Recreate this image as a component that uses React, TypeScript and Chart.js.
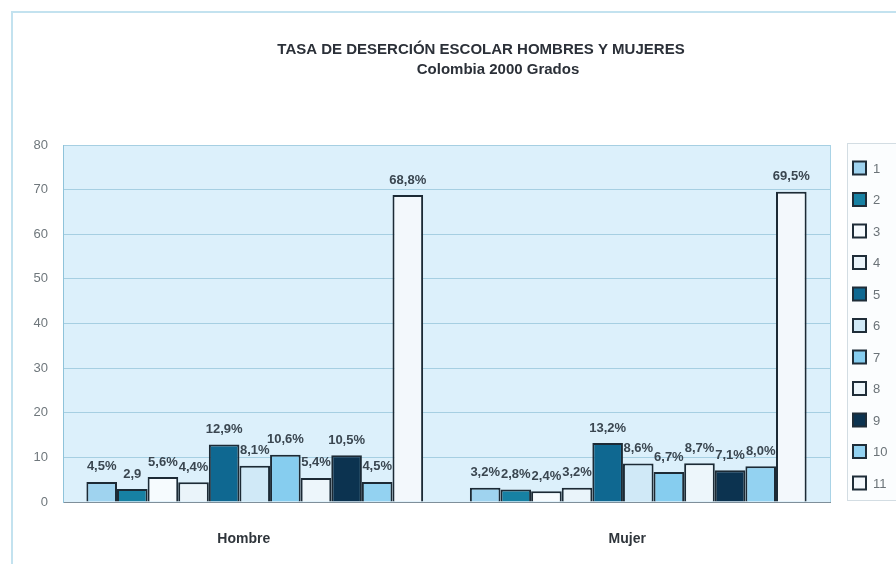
import React, { useEffect, useRef } from "react";
import { Chart, registerables } from "chart.js";

Chart.register(...registerables);

const categories = ["Hombre", "Mujer"];
const grades = ["1", "2", "3", "4", "5", "6", "7", "8", "9", "10", "11"];
const hombre = [4.5, 2.9, 5.6, 4.4, 12.9, 8.1, 10.6, 5.4, 10.5, 4.5, 68.8];
const mujer = [3.2, 2.8, 2.4, 3.2, 13.2, 8.6, 6.7, 8.7, 7.1, 8.0, 69.5];
const hombreLabels = ["4,5%", "2,9", "5,6%", "4,4%", "12,9%", "8,1%", "10,6%", "5,4%", "10,5%", "4,5%", "68,8%"];
const mujerLabels = ["3,2%", "2,8%", "2,4%", "3,2%", "13,2%", "8,6%", "6,7%", "8,7%", "7,1%", "8,0%", "69,5%"];
const gradeColors = [
  "#9fd3ef", "#1781a3", "#f6fbfe", "#eaf4fa", "#0f6891", "#d0e9f7",
  "#86cdef", "#edf6fb", "#0c3350", "#93d2f1", "#f3f8fc",
];
const titleLines = ["TASA DE DESERCIÓN ESCOLAR HOMBRES Y MUJERES", "Colombia 2000 Grados"];
const yMin = 0;
const yMax = 80;
const yStep = 10;

const FONT = "'Liberation Sans', Arial, sans-serif";

const decorPlugin = {
  id: "decor",
  beforeDraw(chart: any) {
    const { ctx, chartArea: a, width, height } = chart;
    ctx.save();
    ctx.fillStyle = "#ffffff";
    ctx.fillRect(0, 0, width, height);
    // outer frame
    ctx.strokeStyle = "#c3e2ef";
    ctx.lineWidth = 2;
    ctx.beginPath();
    ctx.moveTo(12, height + 5);
    ctx.lineTo(12, 12);
    ctx.lineTo(width + 5, 12);
    ctx.stroke();
    // plot background
    ctx.fillStyle = "#dcf0fb";
    ctx.fillRect(a.left, a.top, a.right - a.left, a.bottom - a.top);
    ctx.strokeStyle = "#a9d3e6";
    ctx.lineWidth = 1;
    ctx.strokeRect(a.left + 0.5, a.top + 0.5, a.right - a.left, a.bottom - a.top);
    // legend box
    ctx.strokeStyle = "#d3dde3";
    ctx.fillStyle = "#fbfdfe";
    ctx.fillRect(847, 143, 60, 357);
    ctx.strokeRect(847.5, 143.5, 60, 357);
    ctx.restore();
  },
  afterDatasetsDraw(chart: any) {
    const { ctx } = chart;
    ctx.save();
    ctx.font = `bold 13px ${FONT}`;
    ctx.fillStyle = "#3a4650";
    ctx.textAlign = "center";
    ctx.textBaseline = "middle";
    chart.data.datasets.forEach((ds: any, i: number) => {
      const meta = chart.getDatasetMeta(i);
      meta.data.forEach((el: any, j: number) => {
        const txt = j === 0 ? hombreLabels[i] : mujerLabels[i];
        ctx.fillText(txt, el.x, el.y - 15);
      });
    });
    ctx.restore();
  },
  afterDraw(chart: any) {
    const { ctx } = chart;
    ctx.save();
    // title
    ctx.fillStyle = "#2b3038";
    ctx.textAlign = "center";
    ctx.textBaseline = "middle";
    ctx.font = `bold 15px ${FONT}`;
    ctx.fillText(titleLines[0], 481, 50);
    ctx.fillText(titleLines[1], 498, 70);
    // legend
    ctx.textAlign = "left";
    ctx.font = `13px ${FONT}`;
    grades.forEach((g, i) => {
      const y = 168 + i * 31.5;
      ctx.fillStyle = gradeColors[i];
      ctx.fillRect(853, y - 6.5, 13, 13);
      ctx.strokeStyle = "#1f2d38";
      ctx.lineWidth = 2;
      ctx.strokeRect(853, y - 6.5, 13, 13);
      ctx.fillStyle = "#6b7378";
      ctx.fillText(g, 873, y + 1);
    });
    ctx.restore();
  },
};

export default function App() {
  const ref = useRef<HTMLCanvasElement | null>(null);
  useEffect(() => {
    if (!ref.current) return;
    const chart = new Chart(ref.current, {
      type: "bar",
      data: {
        labels: categories,
        datasets: grades.map((g, i) => ({
          label: g,
          data: [hombre[i], mujer[i]],
          backgroundColor: gradeColors[i],
          borderColor: "#1c2a35",
          borderWidth: 2,
          categoryPercentage: 0.878,
          barPercentage: 1.0,
        })),
      },
      options: {
        responsive: false,
        animation: false,
        devicePixelRatio: 1,
        layout: { padding: { left: 12, top: 145, right: 66, bottom: 12 } },
        plugins: {
          legend: { display: false },
          title: { display: false },
          tooltip: { enabled: false },
        },
        scales: {
          x: {
            grid: { display: false, drawTicks: false },
            border: { display: true, color: "#7f8f9a", width: 1 },
            ticks: {
              padding: 29,
              labelOffset: -11,
              color: "#2f353b",
              font: { family: FONT, size: 14, weight: "bold" },
            },
            afterFit: (s: any) => { s.height = 50; },
          },
          y: {
            min: yMin,
            max: yMax,
            grid: { color: "#a6cfe2", lineWidth: 1, drawTicks: false },
            border: { display: true, color: "#8fc3da" },
            ticks: {
              stepSize: yStep,
              padding: 15,
              color: "#6f777c",
              font: { family: FONT, size: 13 },
            },
            afterFit: (s: any) => { s.width = 51; },
          },
        },
      },
      plugins: [decorPlugin],
    });
    return () => chart.destroy();
  }, []);
  return (
    <div style={{ position: "fixed", left: 0, top: 0, width: 896, height: 564 }}>
      <canvas ref={ref} width={896} height={564} />
    </div>
  );
}
